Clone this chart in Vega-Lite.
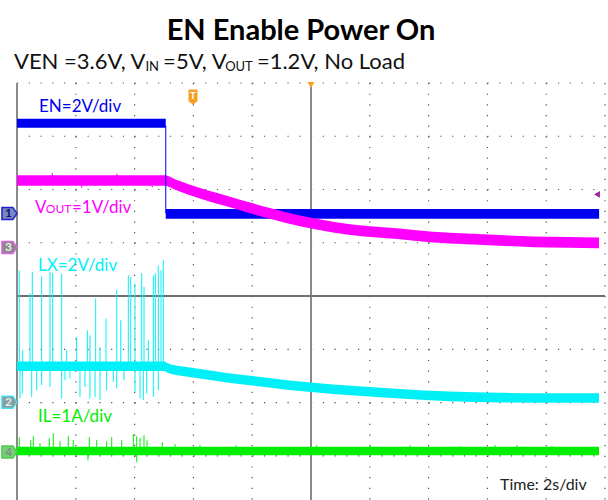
{
  "$schema": "https://vega.github.io/schema/vega-lite/v6.json",
  "width": 588,
  "height": 417,
  "autosize": {"type": "none"},
  "padding": {"left": 17, "top": 83, "right": 3, "bottom": 0},
  "background": "white",
  "config": {"view": {"stroke": null}, "text": {"font": "Lato"}},
  "datasets": {
    "hgrid": [{"y": 4, "x": 0, "x2": 10}, {"y": 3, "x": 0, "x2": 10}, {"y": 2, "x": 0, "x2": 10}, {"y": 1, "x": 0, "x2": 10}, {"y": -1, "x": 0, "x2": 10}, {"y": -2, "x": 0, "x2": 10}, {"y": -3, "x": 0, "x2": 10}],
    "vgrid": [{"x": 1, "y": 4, "y2": -3.83}, {"x": 2, "y": 4, "y2": -3.83}, {"x": 3, "y": 4, "y2": -3.83}, {"x": 4, "y": 4, "y2": -3.83}, {"x": 6, "y": 4, "y2": -3.83}, {"x": 7, "y": 4, "y2": -3.83}, {"x": 8, "y": 4, "y2": -3.83}, {"x": 9, "y": 4, "y2": -3.83}, {"x": 10, "y": 4, "y2": -3.83}],
    "vaxes": [{"x": 0, "y": 4, "y2": -3.83}, {"x": 5, "y": 4, "y2": -3.83}],
    "haxes": [{"y": 0, "x": 0, "x2": 10}],
    "tickX": [{"x":0},{"x":0.2},{"x":0.4},{"x":0.6},{"x":0.8},{"x":1},{"x":1.2},{"x":1.4},{"x":1.6},{"x":1.8},{"x":2},{"x":2.2},{"x":2.4},{"x":2.6},{"x":2.8},{"x":3},{"x":3.2},{"x":3.4},{"x":3.6},{"x":3.8},{"x":4},{"x":4.2},{"x":4.4},{"x":4.6},{"x":4.8},{"x":5},{"x":5.2},{"x":5.4},{"x":5.6},{"x":5.8},{"x":6},{"x":6.2},{"x":6.4},{"x":6.6},{"x":6.8},{"x":7},{"x":7.2},{"x":7.4},{"x":7.6},{"x":7.8},{"x":8},{"x":8.2},{"x":8.4},{"x":8.6},{"x":8.8},{"x":9},{"x":9.2},{"x":9.4},{"x":9.6},{"x":9.8},{"x":10}],
    "tickY": [{"y":-3.8},{"y":-3.6},{"y":-3.4},{"y":-3.2},{"y":-3},{"y":-2.8},{"y":-2.6},{"y":-2.4},{"y":-2.2},{"y":-2},{"y":-1.8},{"y":-1.6},{"y":-1.4},{"y":-1.2},{"y":-1},{"y":-0.8},{"y":-0.6},{"y":-0.4},{"y":-0.2},{"y":0},{"y":0.2},{"y":0.4},{"y":0.6},{"y":0.8},{"y":1},{"y":1.2},{"y":1.4},{"y":1.6},{"y":1.8},{"y":2},{"y":2.2},{"y":2.4},{"y":2.6},{"y":2.8},{"y":3},{"y":3.2},{"y":3.4},{"y":3.6},{"y":3.8},{"y":4}],
    "bands": [
      {"ch": "EN", "seg": "EN1", "x": 0, "y": 3.33, "y2": 3.16},
      {"ch": "EN", "seg": "EN1", "x": 2.53, "y": 3.33, "y2": 3.16},
      {"ch": "EN", "seg": "EN2", "x": 2.53, "y": 1.635, "y2": 1.45},
      {"ch": "EN", "seg": "EN2", "x": 9.9, "y": 1.635, "y2": 1.45},
      {"ch": "VOUT", "seg": "V", "x": 0, "y": 2.27, "y2": 2.07},
      {"ch": "VOUT", "seg": "V", "x": 2.517, "y": 2.27, "y2": 2.07},
      {"ch": "VOUT", "seg": "V", "x": 2.687, "y": 2.194, "y2": 1.994},
      {"ch": "VOUT", "seg": "V", "x": 2.942, "y": 2.091, "y2": 1.891},
      {"ch": "VOUT", "seg": "V", "x": 3.282, "y": 1.97, "y2": 1.77},
      {"ch": "VOUT", "seg": "V", "x": 3.622, "y": 1.866, "y2": 1.666},
      {"ch": "VOUT", "seg": "V", "x": 3.963, "y": 1.754, "y2": 1.554},
      {"ch": "VOUT", "seg": "V", "x": 4.303, "y": 1.651, "y2": 1.451},
      {"ch": "VOUT", "seg": "V", "x": 4.813, "y": 1.511, "y2": 1.311},
      {"ch": "VOUT", "seg": "V", "x": 5.374, "y": 1.394, "y2": 1.194},
      {"ch": "VOUT", "seg": "V", "x": 5.952, "y": 1.313, "y2": 1.113},
      {"ch": "VOUT", "seg": "V", "x": 6.514, "y": 1.266, "y2": 1.066},
      {"ch": "VOUT", "seg": "V", "x": 7.075, "y": 1.206, "y2": 1.006},
      {"ch": "VOUT", "seg": "V", "x": 7.653, "y": 1.172, "y2": 0.972},
      {"ch": "VOUT", "seg": "V", "x": 8.214, "y": 1.144, "y2": 0.944},
      {"ch": "VOUT", "seg": "V", "x": 8.776, "y": 1.118, "y2": 0.918},
      {"ch": "VOUT", "seg": "V", "x": 9.354, "y": 1.108, "y2": 0.908},
      {"ch": "VOUT", "seg": "V", "x": 9.898, "y": 1.098, "y2": 0.898},
      {"ch": "LX", "seg": "L", "x": 0, "y": -1.228, "y2": -1.408},
      {"ch": "LX", "seg": "L", "x": 2.517, "y": -1.228, "y2": -1.408},
      {"ch": "LX", "seg": "L", "x": 2.551, "y": -1.256, "y2": -1.436},
      {"ch": "LX", "seg": "L", "x": 2.823, "y": -1.322, "y2": -1.502},
      {"ch": "LX", "seg": "L", "x": 3.112, "y": -1.369, "y2": -1.549},
      {"ch": "LX", "seg": "L", "x": 3.401, "y": -1.416, "y2": -1.596},
      {"ch": "LX", "seg": "L", "x": 3.673, "y": -1.459, "y2": -1.639},
      {"ch": "LX", "seg": "L", "x": 3.963, "y": -1.495, "y2": -1.675},
      {"ch": "LX", "seg": "L", "x": 4.252, "y": -1.535, "y2": -1.715},
      {"ch": "LX", "seg": "L", "x": 4.524, "y": -1.57, "y2": -1.75},
      {"ch": "LX", "seg": "L", "x": 4.813, "y": -1.605, "y2": -1.785},
      {"ch": "LX", "seg": "L", "x": 5.374, "y": -1.66, "y2": -1.84},
      {"ch": "LX", "seg": "L", "x": 6.122, "y": -1.716, "y2": -1.896},
      {"ch": "LX", "seg": "L", "x": 6.514, "y": -1.745, "y2": -1.925},
      {"ch": "LX", "seg": "L", "x": 7.364, "y": -1.794, "y2": -1.974},
      {"ch": "LX", "seg": "L", "x": 8.214, "y": -1.818, "y2": -1.998},
      {"ch": "LX", "seg": "L", "x": 9.065, "y": -1.826, "y2": -2.006},
      {"ch": "LX", "seg": "L", "x": 9.898, "y": -1.826, "y2": -2.006},
      {"ch": "IL", "seg": "I", "x": 0, "y": -2.832, "y2": -2.992},
      {"ch": "IL", "seg": "I", "x": 9.898, "y": -2.832, "y2": -2.992}
    ],
    "spikes": [
      {"ch": "EN", "x": 2.53, "y": 3.2, "y2": 1.55},
      {"ch": "VOUT", "x": 0.6, "y": 2.31, "y2": 2.17},
      {"ch": "VOUT", "x": 1.1, "y": 2.03, "y2": 2.17},
      {"ch": "VOUT", "x": 1.7, "y": 2.3, "y2": 2.17},
      {"ch": "VOUT", "x": 2.3, "y": 2.04, "y2": 2.17},
      {"ch": "LX", "x": 0.039, "y": 0.482, "y2": -1.318},
      {"ch": "LX", "x": 0.097, "y": -1.013, "y2": -1.318},
      {"ch": "LX", "x": 0.221, "y": 0.051, "y2": -1.318},
      {"ch": "LX", "x": 0.26, "y": 0.45, "y2": -1.318},
      {"ch": "LX", "x": 0.42, "y": 0.369, "y2": -1.318},
      {"ch": "LX", "x": 0.561, "y": 0.45, "y2": -1.318},
      {"ch": "LX", "x": 0.607, "y": 0.431, "y2": -1.318},
      {"ch": "LX", "x": 0.76, "y": 0.42, "y2": -1.318},
      {"ch": "LX", "x": 0.845, "y": -1.013, "y2": -1.318},
      {"ch": "LX", "x": 1.015, "y": -0.769, "y2": -1.318},
      {"ch": "LX", "x": 1.196, "y": -0.643, "y2": -1.318},
      {"ch": "LX", "x": 1.241, "y": -0.737, "y2": -1.318},
      {"ch": "LX", "x": 1.338, "y": -0.049, "y2": -1.318},
      {"ch": "LX", "x": 1.412, "y": -0.956, "y2": -1.318},
      {"ch": "LX", "x": 1.514, "y": -0.424, "y2": -1.318},
      {"ch": "LX", "x": 1.696, "y": 0.12, "y2": -1.318},
      {"ch": "LX", "x": 1.764, "y": -0.456, "y2": -1.318},
      {"ch": "LX", "x": 1.893, "y": 0.388, "y2": -1.318},
      {"ch": "LX", "x": 1.934, "y": 0.356, "y2": -1.318},
      {"ch": "LX", "x": 2.007, "y": 0.233, "y2": -1.318},
      {"ch": "LX", "x": 2.121, "y": 0.431, "y2": -1.318},
      {"ch": "LX", "x": 2.16, "y": 0.169, "y2": -1.318},
      {"ch": "LX", "x": 2.233, "y": -0.831, "y2": -1.318},
      {"ch": "LX", "x": 2.318, "y": 0.388, "y2": -1.318},
      {"ch": "LX", "x": 2.352, "y": 0.431, "y2": -1.318},
      {"ch": "LX", "x": 2.403, "y": 0.576, "y2": -1.318},
      {"ch": "LX", "x": 2.449, "y": 0.482, "y2": -1.318},
      {"ch": "LX", "x": 2.488, "y": 0.683, "y2": -1.318},
      {"ch": "LX", "x": 0.051, "y": -1.924, "y2": -1.318},
      {"ch": "LX", "x": 0.09, "y": -1.83, "y2": -1.318},
      {"ch": "LX", "x": 0.25, "y": -1.894, "y2": -1.318},
      {"ch": "LX", "x": 0.335, "y": -1.768, "y2": -1.318},
      {"ch": "LX", "x": 0.42, "y": -1.674, "y2": -1.318},
      {"ch": "LX", "x": 0.561, "y": -1.706, "y2": -1.318},
      {"ch": "LX", "x": 0.76, "y": -1.924, "y2": -1.318},
      {"ch": "LX", "x": 0.816, "y": -1.581, "y2": -1.318},
      {"ch": "LX", "x": 0.901, "y": -1.549, "y2": -1.318},
      {"ch": "LX", "x": 1.071, "y": -1.894, "y2": -1.318},
      {"ch": "LX", "x": 1.156, "y": -1.706, "y2": -1.318},
      {"ch": "LX", "x": 1.241, "y": -1.924, "y2": -1.318},
      {"ch": "LX", "x": 1.327, "y": -1.894, "y2": -1.318},
      {"ch": "LX", "x": 1.412, "y": -1.956, "y2": -1.318},
      {"ch": "LX", "x": 1.525, "y": -1.768, "y2": -1.318},
      {"ch": "LX", "x": 1.638, "y": -1.613, "y2": -1.318},
      {"ch": "LX", "x": 1.696, "y": -1.736, "y2": -1.318},
      {"ch": "LX", "x": 1.82, "y": -1.581, "y2": -1.318},
      {"ch": "LX", "x": 2.007, "y": -1.8, "y2": -1.318},
      {"ch": "LX", "x": 2.092, "y": -1.924, "y2": -1.318},
      {"ch": "LX", "x": 2.148, "y": -1.956, "y2": -1.318},
      {"ch": "LX", "x": 2.206, "y": -1.83, "y2": -1.318},
      {"ch": "LX", "x": 2.318, "y": -1.894, "y2": -1.318},
      {"ch": "LX", "x": 2.403, "y": -1.768, "y2": -1.318},
      {"ch": "IL", "x": 0.039, "y": -2.65, "y2": -2.912},
      {"ch": "IL", "x": 0.233, "y": -2.706, "y2": -2.912},
      {"ch": "IL", "x": 0.277, "y": -2.631, "y2": -2.912},
      {"ch": "IL", "x": 0.391, "y": -2.762, "y2": -2.912},
      {"ch": "IL", "x": 0.549, "y": -2.669, "y2": -2.912},
      {"ch": "IL", "x": 0.617, "y": -2.575, "y2": -2.912},
      {"ch": "IL", "x": 0.731, "y": -2.725, "y2": -2.912},
      {"ch": "IL", "x": 0.872, "y": -2.631, "y2": -2.912},
      {"ch": "IL", "x": 0.957, "y": -2.706, "y2": -2.912},
      {"ch": "IL", "x": 1.207, "y": -3.08, "y2": -2.912},
      {"ch": "IL", "x": 1.23, "y": -2.65, "y2": -2.912},
      {"ch": "IL", "x": 1.355, "y": -2.706, "y2": -2.912},
      {"ch": "IL", "x": 1.526, "y": -2.725, "y2": -2.912},
      {"ch": "IL", "x": 1.611, "y": -2.65, "y2": -2.912},
      {"ch": "IL", "x": 1.781, "y": -2.706, "y2": -2.912},
      {"ch": "IL", "x": 1.978, "y": -2.594, "y2": -2.912},
      {"ch": "IL", "x": 2.036, "y": -2.631, "y2": -2.912},
      {"ch": "IL", "x": 2.036, "y": -3.118, "y2": -2.912},
      {"ch": "IL", "x": 2.092, "y": -2.669, "y2": -2.912},
      {"ch": "IL", "x": 2.16, "y": -2.612, "y2": -2.912},
      {"ch": "IL", "x": 2.211, "y": -2.706, "y2": -2.912},
      {"ch": "IL", "x": 2.471, "y": -2.743, "y2": -2.912},
      {"ch": "IL", "x": 2.687, "y": -2.781, "y2": -2.912},
      {"ch": "IL", "x": 3.112, "y": -2.8, "y2": -2.912},
      {"ch": "IL", "x": 3.724, "y": -2.8, "y2": -2.912},
      {"ch": "IL", "x": 5.097, "y": -2.8, "y2": -2.912},
      {"ch": "IL", "x": 6.003, "y": -2.8, "y2": -2.912},
      {"ch": "IL", "x": 6.684, "y": -2.8, "y2": -2.912},
      {"ch": "IL", "x": 7.534, "y": -2.818, "y2": -2.912},
      {"ch": "IL", "x": 8.129, "y": -2.8, "y2": -2.912},
      {"ch": "IL", "x": 8.503, "y": -2.8, "y2": -2.912},
      {"ch": "IL", "x": 9.098, "y": -2.818, "y2": -2.912}
    ],
    "labels": [
      {"t": "EN=2V/div", "ch": "EN", "x": 0.374, "y": 3.463},
      {"t": "V", "ch": "VOUT", "x": 0.306, "y": 1.56},
      {"t": "=1V/div", "ch": "VOUT", "x": 0.935, "y": 1.56},
      {"t": "LX=2V/div", "ch": "LX", "x": 0.357, "y": 0.463},
      {"t": "IL=1A/div", "ch": "IL", "x": 0.357, "y": -2.363}
    ],
    "labelsSmall": [
      {"t": "OUT", "ch": "VOUT", "x": 0.49, "y": 1.551}
    ],
    "titleRow": [{"t": "EN Enable Power On", "x": 4.83, "y": 4.813}],
    "subtitle": [
      {"t": "VEN =3.6V, V", "x": -0.051, "y": 4.264},
      {"t": "=5V, V", "x": 2.485, "y": 4.264},
      {"t": "=1.2V, No Load", "x": 4.08, "y": 4.264}
    ],
    "subtitleSub": [
      {"t": "IN", "x": 2.185, "y": 4.219},
      {"t": "OUT", "x": 3.54, "y": 4.219}
    ],
    "timeRow": [{"t": "Time: 2s/div", "x": 8.214, "y": -3.644}],
    "markers": [
      {"n": "1", "ch": "EN", "x": -0.128, "y": 1.551},
      {"n": "3", "ch": "VOUT", "x": -0.128, "y": 0.913},
      {"n": "2", "ch": "LX", "x": -0.128, "y": -1.993},
      {"n": "4", "ch": "IL", "x": -0.128, "y": -2.931}
    ],
    "trigT": [{"x": 2.993, "y": 3.735}],
    "trigTop": [{"x": 5, "y": 3.962}],
    "trigLevel": [{"x": 9.864, "y": 1.907}]
  },
  "encoding": {
    "x": {"field": "x", "type": "quantitative", "scale": {"domain": [0, 10]}, "axis": null},
    "y": {"field": "y", "type": "quantitative", "scale": {"domain": [-3.83, 4]}, "axis": null}
  },
  "layer": [
    {"data": {"name": "hgrid"}, "mark": {"type": "rule", "color": "#505050", "strokeWidth": 1.2, "strokeDash": [1.2, 10.56]}, "encoding": {"x2": {"field": "x2"}}},
    {"data": {"name": "vgrid"}, "mark": {"type": "rule", "color": "#505050", "strokeWidth": 1.2, "strokeDash": [1.2, 9.45]}, "encoding": {"y2": {"field": "y2"}}},
    {"data": {"name": "vaxes"}, "mark": {"type": "rule", "color": "#8a8a8a", "strokeWidth": 2}, "encoding": {"y2": {"field": "y2"}}},
    {"data": {"name": "haxes"}, "mark": {"type": "rule", "color": "#707070", "strokeWidth": 2}, "encoding": {"x2": {"field": "x2"}}},
    {"data": {"name": "tickX"}, "mark": {"type": "point", "shape": "M0,-1L0,1", "size": 36, "filled": false, "stroke": "#606060", "strokeWidth": 1, "opacity": 1}, "encoding": {"y": {"datum": 0, "type": "quantitative"}}},
    {"data": {"name": "tickY"}, "mark": {"type": "point", "shape": "M-1,0L1,0", "size": 49, "filled": false, "stroke": "#606060", "strokeWidth": 1, "opacity": 1}, "encoding": {"x": {"datum": 5, "type": "quantitative"}}},
    {"data": {"name": "tickY"}, "mark": {"type": "point", "shape": "M0,0L1,0", "size": 36, "filled": false, "stroke": "#606060", "strokeWidth": 1, "opacity": 1}, "encoding": {"x": {"datum": 0, "type": "quantitative"}}},
    {"data": {"name": "bands"}, "mark": {"type": "area", "opacity": 1, "interpolate": "monotone"}, "encoding": {"y2": {"field": "y2"}, "detail": {"field": "seg"}, "color": {"field": "ch", "type": "nominal", "scale": {"domain": ["EN", "VOUT", "LX", "IL"], "range": ["#0000f0", "#ff00ff", "#00f0f8", "#00ee00"]}, "legend": null}}},
    {"data": {"name": "spikes"}, "mark": {"type": "rule", "strokeWidth": 1}, "encoding": {"y2": {"field": "y2"}, "color": {"field": "ch", "type": "nominal", "legend": null}}},
    {"data": {"name": "labels"}, "mark": {"type": "text", "align": "left", "baseline": "alphabetic", "fontSize": 17}, "encoding": {"text": {"field": "t"}, "color": {"field": "ch", "type": "nominal", "legend": null}}},
    {"data": {"name": "labelsSmall"}, "mark": {"type": "text", "align": "left", "baseline": "alphabetic", "fontSize": 12}, "encoding": {"text": {"field": "t"}, "color": {"field": "ch", "type": "nominal", "legend": null}}},
    {"data": {"name": "titleRow"}, "mark": {"type": "text", "align": "center", "baseline": "alphabetic", "fontSize": 29, "fontWeight": "bold", "color": "#000000"}, "encoding": {"text": {"field": "t"}}},
    {"data": {"name": "subtitle"}, "mark": {"type": "text", "align": "left", "baseline": "alphabetic", "fontSize": 22, "color": "#111111"}, "encoding": {"text": {"field": "t"}}},
    {"data": {"name": "subtitleSub"}, "mark": {"type": "text", "align": "left", "baseline": "alphabetic", "fontSize": 13, "color": "#111111"}, "encoding": {"text": {"field": "t"}}},
    {"data": {"name": "timeRow"}, "mark": {"type": "text", "align": "left", "baseline": "alphabetic", "fontSize": 16, "color": "#222222"}, "encoding": {"text": {"field": "t"}}},
    {"data": {"name": "markers"}, "mark": {"type": "point", "shape": "M-1,-0.8L0.45,-0.8L1,0L0.45,0.8L-1,0.8Z", "size": 225, "filled": true, "opacity": 1, "strokeWidth": 1.5}, "encoding": {
      "fill": {"field": "ch", "type": "nominal", "scale": {"domain": ["EN", "VOUT", "LX", "IL", "1", "3", "2", "4"], "range": ["#7888bb", "#8a8a8a", "#8c9a9c", "#6fd46f", "#101080", "#eeeeee", "#d8f4f4", "#8a8a8a"]}, "legend": null},
      "stroke": {"field": "ch", "type": "nominal", "scale": {"domain": ["EN", "VOUT", "LX", "IL"], "range": ["#2020d0", "#e060e0", "#40e0f0", "#50c850"]}, "legend": null}}},
    {"data": {"name": "markers"}, "mark": {"type": "text", "align": "center", "baseline": "middle", "fontSize": 12, "fontWeight": "bold", "dx": -1}, "encoding": {"text": {"field": "n"}, "fill": {"field": "n", "type": "nominal", "legend": null}}},
    {"data": {"name": "trigT"}, "mark": {"type": "point", "shape": "M-0.6,-1L0.6,-1L0.6,0.55L0,1L-0.6,0.55Z", "size": 225, "filled": true, "opacity": 1, "color": "#f5a020"}},
    {"data": {"name": "trigT"}, "mark": {"type": "text", "align": "center", "baseline": "middle", "fontSize": 10, "fontWeight": "bold", "color": "#ffffff", "text": "T", "dy": -1}},
    {"data": {"name": "trigTop"}, "mark": {"type": "point", "shape": "triangle-down", "size": 50, "filled": true, "opacity": 1, "color": "#f5a020"}},
    {"data": {"name": "trigLevel"}, "mark": {"type": "point", "shape": "triangle-left", "size": 45, "filled": true, "opacity": 1, "color": "#a020a0"}}
  ]
}
